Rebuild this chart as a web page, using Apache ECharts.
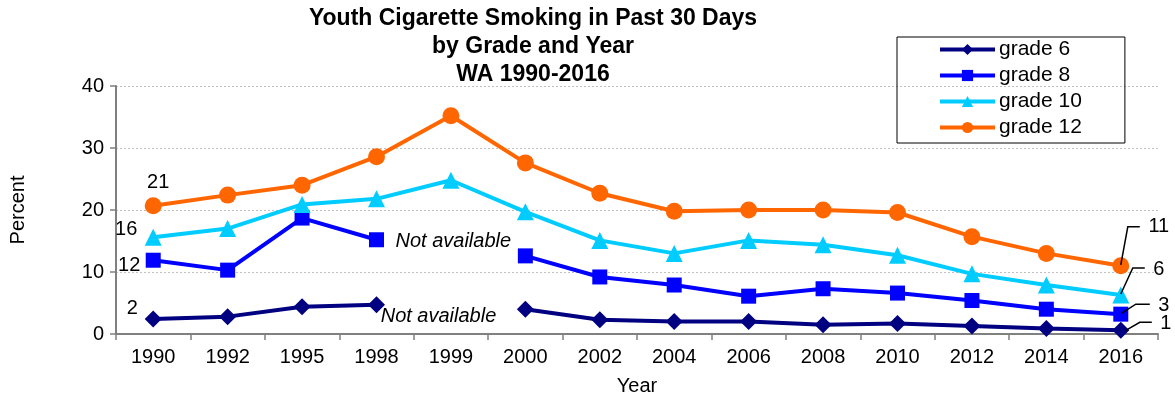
<!DOCTYPE html>
<html>
<head>
<meta charset="utf-8">
<script src="https://cdn.jsdelivr.net/npm/echarts@6/dist/echarts.min.js"></script>
<style>
html,body{margin:0;padding:0;background:#fff;}
#chart{width:1175px;height:402px;}
</style>
</head>
<body>
<div id="chart"></div>
<script>
const years = ['1990','1992','1995','1998','1999','2000','2002','2004','2006','2008','2010','2012','2014','2016'];
const grade6  = [2.4, 2.8, 4.4, 4.7, null, 4.0, 2.3, 2.0, 2.0, 1.5, 1.7, 1.3, 0.9, 0.6];
const grade8  = [11.9, 10.3, 18.7, 15.2, null, 12.6, 9.2, 7.9, 6.1, 7.3, 6.6, 5.4, 4.0, 3.2];
const grade10 = [15.6, 17.0, 20.9, 21.8, 24.8, 19.7, 15.1, 13.0, 15.1, 14.4, 12.7, 9.7, 7.9, 6.3];
const grade12 = [20.7, 22.4, 24.0, 28.6, 35.2, 27.6, 22.7, 19.8, 20.0, 20.0, 19.6, 15.7, 13.0, 11.0];
const seriesNames = ['grade 6','grade 8','grade 10','grade 12'];
const yTicks = [0, 10, 20, 30, 40];
const naText = 'Not available';

const FONT = '"Liberation Sans", Arial, sans-serif';
const colors = ['#000080','#0000FF','#00CCFF','#FF6600'];
const symbols = ['diamond','rect','triangle','circle'];
const symSizes = [17, 15, 17, 17];
const allData = [grade6, grade8, grade10, grade12];

const chart = echarts.init(document.getElementById('chart'), null, {renderer:'canvas'});
const option = {
  animation: false,
  backgroundColor: '#fff',
  title: {
    text: 'Youth Cigarette Smoking in Past 30 Days\nby Grade and Year\nWA 1990-2016',
    left: 533, top: 5, textAlign: 'center', padding: 0,
    textStyle: {fontFamily: FONT, fontSize: 23, fontWeight: 'bold', lineHeight: 28, color: '#000'}
  },
  legend: {
    orient: 'vertical', left: 897, top: 37,
    padding: [2, 43, 5, 41],
    borderColor: '#000', borderWidth: 1,
    itemWidth: 55, itemHeight: 14, itemGap: 5,
    lineStyle: {width: 4},
    textStyle: {fontFamily: FONT, fontSize: 21, color: '#000', lineHeight: 20, padding: [0,0,0,-1]},
    data: seriesNames
  },
  grid: {left: 116, right: 17, top: 86, bottom: 68, containLabel: false},
  xAxis: {
    type: 'category', data: years, boundaryGap: true,
    name: 'Year', nameLocation: 'middle', nameGap: 42,
    nameTextStyle: {fontFamily: FONT, fontSize: 20, color: '#000'},
    axisLine: {lineStyle: {color: '#808080', width: 2}},
    axisTick: {show: true, length: 6, alignWithLabel: false, lineStyle: {color: '#808080', width: 1.5}},
    axisLabel: {fontFamily: FONT, fontSize: 20, color: '#000', margin: 13, interval: 0}
  },
  yAxis: {
    type: 'value', min: yTicks[0], max: yTicks[yTicks.length-1], interval: 10,
    name: 'Percent', nameLocation: 'middle', nameGap: 88, nameRotate: 90,
    nameTextStyle: {fontFamily: FONT, fontSize: 20, color: '#000'},
    axisLine: {show: true, lineStyle: {color: '#808080', width: 2}},
    axisTick: {show: true, length: 6, lineStyle: {color: '#808080', width: 1.5}},
    axisLabel: {fontFamily: FONT, fontSize: 20, color: '#000', margin: 12},
    splitLine: {show: true, lineStyle: {color: '#bfbfbf', type: [2,2], width: 1}}
  },
  series: seriesNames.map((n, i) => ({
    name: n, type: 'line', data: allData[i],
    connectNulls: false,
    symbol: symbols[i], symbolSize: symSizes[i],
    itemStyle: {color: colors[i]},
    lineStyle: {color: colors[i], width: 4},
    z: 2 + i
  }))
};
chart.setOption(option);

function px(si, idx) {
  return chart.convertToPixel({seriesIndex: si}, [idx, allData[si][idx]]);
}
const g = [];
function txt(x, y, s, extra) {
  g.push(Object.assign({
    type: 'text', x: x, y: y, z: 100,
    style: Object.assign({text: s, fontFamily: FONT, fontSize: 20, fill: '#000', align: 'center', verticalAlign: 'middle'}, extra || {})
  }));
}
function poly(pts) {
  g.push({type: 'polyline', z: 99, shape: {points: pts}, style: {stroke: '#000', lineWidth: 1.5, fill: null}});
}
// left-side value labels (first year)
const lOff = [[-21, -11], [-24, 5], [-27, -8], [5, -23]];
for (let i = 0; i < 4; i++) {
  const p = px(i, 0);
  txt(p[0] + lOff[i][0], p[1] + lOff[i][1], String(Math.round(allData[i][0])));
}
// right-side value labels with leader lines (last year)
const last = years.length - 1;
const lead = [
  {s: [5, 0], m: [19, -8], e: [31, -8], t: [45, -7]},
  {s: [1, -1], m: [15, -10], e: [29, -10], t: [43, -9]},
  {s: [0, -1], m: [12, -27], e: [24, -27], t: [38, -25]},
  {s: [0, -1], m: [7, -39], e: [19, -39], t: [38, -39]}
];
for (let i = 0; i < 4; i++) {
  const p = px(i, last);
  const L = lead[i];
  poly([[p[0]+L.s[0], p[1]+L.s[1]], [p[0]+L.m[0], p[1]+L.m[1]], [p[0]+L.e[0], p[1]+L.e[1]]]);
  txt(p[0] + L.t[0], p[1] + L.t[1], String(Math.round(allData[i][last])));
}
// "Not available" notes near the gap
const p8 = px(1, 3);
txt(p8[0] + 19, p8[1] + 2, naText, {align: 'left', fontStyle: 'italic'});
const p6 = px(0, 3);
txt(p6[0] + 62, p6[1] + 12, naText, {fontStyle: 'italic'});
chart.setOption({graphic: g});
</script>
</body>
</html>
